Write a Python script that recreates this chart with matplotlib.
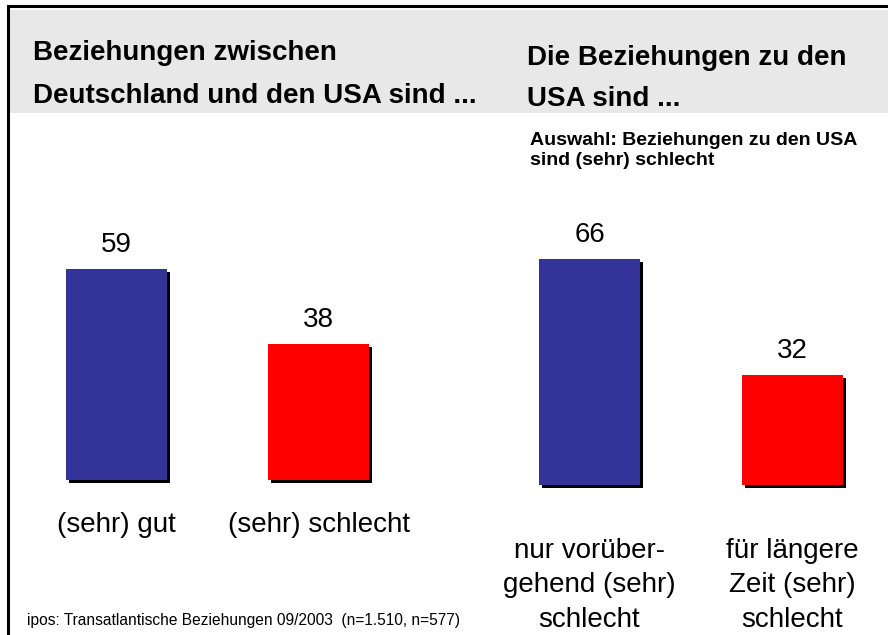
import matplotlib
matplotlib.use("Agg")
from matplotlib import pyplot as plt
from matplotlib.patches import Rectangle
from matplotlib.lines import Line2D
from matplotlib.transforms import ScaledTranslation

plt.rcParams["font.family"] = ["Liberation Sans", "DejaVu Sans"]

# data
left_labels = ["(sehr) gut", "(sehr) schlecht"]
left_values = [59, 38]
right_labels = ["nur vorüber-\ngehend (sehr)\nschlecht", "für längere\nZeit (sehr)\nschlecht"]
right_values = [66, 32]
bar_colors = ["#333399", "#ff0000"]

left_title = ["Beziehungen zwischen", "Deutschland und den USA sind ..."]
right_title = ["Die Beziehungen zu den", "USA sind ..."]
subtitle = "Auswahl: Beziehungen zu den USA\nsind (sehr) schlecht"
footnote = "ipos: Transatlantische Beziehungen 09/2003  (n=1.510, n=577)"

W, H = 888, 635
fig = plt.figure(figsize=(W / 100, H / 100), dpi=100)


def fx(px):
    return px / W


def fy(py):
    return 1 - py / H


# header band and frame
fig.add_artist(Rectangle((fx(10), fy(113)), fx(W - 10), (103) / H,
                         transform=fig.transFigure, facecolor="#e8e8e8",
                         edgecolor="none", zorder=0))
fig.add_artist(Line2D([fx(7.5), fx(7.5), fx(W)], [fy(H), fy(5.5), fy(5.5)],
                      transform=fig.transFigure, color="black", lw=2.2,
                      solid_joinstyle="miter", zorder=1))

for i, line in enumerate(left_title):
    fig.text(fx(33), fy(60 + 43 * i), line, fontsize=20, fontweight="bold",
             va="baseline", ha="left")
for i, line in enumerate(right_title):
    fig.text(fx(527), fy(65 + 41 * i), line, fontsize=20, fontweight="bold",
             va="baseline", ha="left")
fig.text(fx(530), fy(132), subtitle, fontsize=14, fontweight="bold",
         va="top", ha="left", linespacing=1.25)
fig.text(fx(27), fy(620), footnote, fontsize=11.2, va="center", ha="left")


def panel(left_px, width_px, bottom_px, px_per_unit, labels, values, label_off, multi):
    ymax = 70
    ax = fig.add_axes([fx(left_px), fy(bottom_px), fx(width_px),
                       ymax * px_per_unit / H])
    ax.set_xlim(-0.5, 1.5)
    ax.set_ylim(0, ymax)
    ax.axis("off")
    x = list(range(len(values)))
    shadow = ax.transData + ScaledTranslation(3 / 100, -3 / 100, fig.dpi_scale_trans)
    ax.bar(x, values, width=0.5, color="black", transform=shadow,
           clip_on=False, zorder=1)
    ax.bar(x, values, width=0.5, color=bar_colors, clip_on=False, zorder=2)
    for xi, v, lab in zip(x, values, labels):
        ax.annotate(str(v), xy=(xi, v), xytext=(0, 24), textcoords="offset pixels",
                    ha="center", va="center", fontsize=20, annotation_clip=False)
        ax.annotate(lab, xy=(xi, 0), xytext=(0, -label_off),
                    textcoords="offset pixels", ha="center", va="top",
                    fontsize=20, linespacing=1.42 if multi else 1.2,
                    annotation_clip=False)
    return ax


panel(15.5, 404, 480, 3.576, left_labels, left_values, 32, False)
panel(488, 406, 485, 3.43, right_labels, right_values, 53, True)

fig.savefig("out.png", dpi=100)
